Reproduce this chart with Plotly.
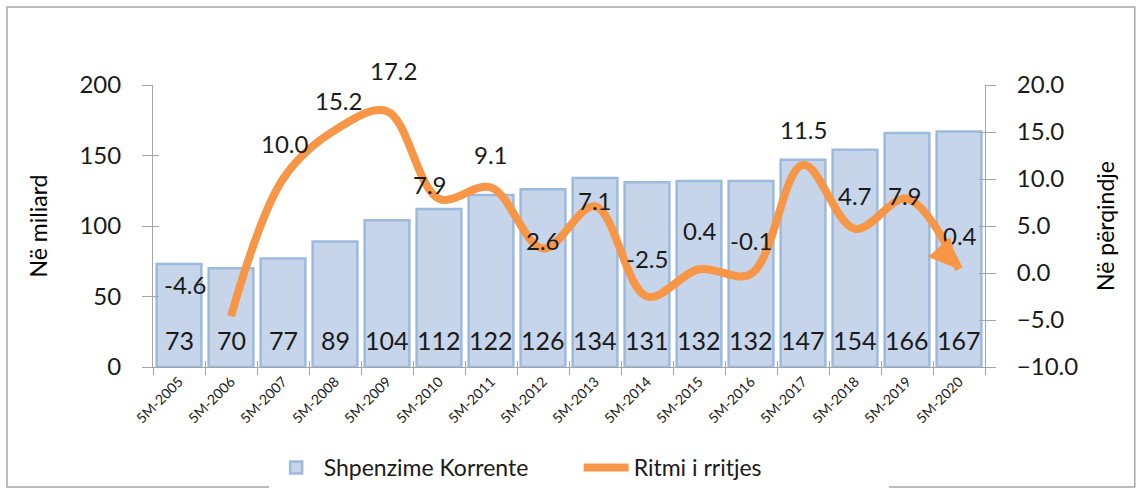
import plotly.graph_objects as go

categories = ["5M-2005", "5M-2006", "5M-2007", "5M-2008", "5M-2009", "5M-2010",
              "5M-2011", "5M-2012", "5M-2013", "5M-2014", "5M-2015", "5M-2016",
              "5M-2017", "5M-2018", "5M-2019", "5M-2020"]
spending = [73, 70, 77, 89, 104, 112, 122, 126, 134, 131, 132, 132, 147, 154, 166, 167]
growth = [None, -4.6, 10.0, 15.2, 17.2, 7.9, 9.1, 2.6, 7.1, -2.5, 0.4, -0.1, 11.5, 4.7, 7.9, 0.4]

# label offsets (pixels) for growth labels: (dx, dy)
label_dx = [0, -46, 2, 3, 6, -9, 0, 0, 0, 0, 1, 0, 0, 0, -2, 1]
label_dy = [0, 32, 36, 30, 41, 14, 33, 8, 6, 38, 39, 33, 35, 33, 3, 34]

FONT = "Lato"
TXT = "#1a1a1a"
AX = "#a6a6a6"
ORANGE = "#f79646"

fig = go.Figure()

fig.add_trace(go.Bar(
    x=categories, y=spending, name="Shpenzime Korrente",
    marker=dict(color="#c6d5ea", line=dict(color="#9cb9de", width=2.5)),
    width=0.86,
))

fig.add_trace(go.Scatter(
    x=categories, y=growth, name="Ritmi i rritjes", yaxis="y2",
    mode="lines",
    line=dict(color=ORANGE, width=8, shape="spline", smoothing=1.0),
    connectgaps=False,
))

# helper (empty) traces so the overlay axes that draw the inner half of the ticks exist
fig.add_trace(go.Scatter(x=[None], y=[None], xaxis="x2", yaxis="y3",
                         showlegend=False, hoverinfo="skip"))
fig.add_trace(go.Scatter(x=[None], y=[None], xaxis="x2", yaxis="y4",
                         showlegend=False, hoverinfo="skip"))

annotations = []
for i, (c, v) in enumerate(zip(categories, spending)):
    annotations.append(dict(x=c, y=0, xref="x", yref="y", text=str(v),
                            showarrow=False, yshift=27,
                            font=dict(family=FONT, size=25, color=TXT)))
for i, (c, g) in enumerate(zip(categories, growth)):
    if g is None:
        continue
    annotations.append(dict(x=c, y=g, xref="x", yref="y2", text=f"{g:.1f}",
                            showarrow=False, yshift=label_dy[i], xshift=label_dx[i],
                            font=dict(family=FONT, size=24, color=TXT)))
# arrow head at the end of the growth line
annotations.append(dict(x=categories[-1], y=growth[-1], xref="x", yref="y2", text="",
                        showarrow=True, arrowhead=2, arrowsize=0.85, arrowwidth=7,
                        arrowcolor=ORANGE, ax=-18, ay=-20, standoff=0))

inner = dict(showgrid=False, zeroline=False, showline=False, ticks="inside",
             ticklen=6, tickcolor=AX, showticklabels=False)

fig.update_layout(
    width=1142, height=492,
    margin=dict(l=153, r=157, t=85, b=125, autoexpand=False),
    paper_bgcolor="white", plot_bgcolor="rgba(0,0,0,0)",
    font=dict(family=FONT, color=TXT),
    bargap=0.1,
    showlegend=True,
    legend=dict(orientation="h", x=0.139, xanchor="left", y=-0.28, yanchor="top",
                font=dict(family=FONT, size=23, color=TXT), entrywidth=250,
                entrywidthmode="pixels", itemwidth=45, tracegroupgap=0),
    xaxis=dict(type="category", showgrid=False, showline=True, linecolor=AX, linewidth=1,
               ticks="outside", ticklen=7, tickcolor=AX, tickson="boundaries",
               tickangle=-45, tickfont=dict(family=FONT, size=14, color=TXT),
               range=[-0.5, 15.5]),
    xaxis2=dict(type="category", overlaying="x", side="bottom", categoryarray=categories,
                categoryorder="array", range=[-0.5, 15.5], tickson="boundaries",
                tickvals=categories, **inner),
    yaxis=dict(range=[0, 200], dtick=50, showgrid=False, zeroline=False,
               showline=True, linecolor=AX, linewidth=1, ticks="outside", ticklen=10,
               tickcolor=AX, ticklabelstandoff=16,
               tickfont=dict(family=FONT, size=24, color=TXT),
               title=dict(text="Në miliard", font=dict(family=FONT, size=23, color="#000"),
                          standoff=25)),
    yaxis2=dict(range=[-10, 20], dtick=5, tickformat=".1f", overlaying="y", side="right",
                showgrid=False, zeroline=False, showline=True, linecolor=AX, linewidth=1,
                ticks="outside", ticklen=10, tickcolor=AX, ticklabelstandoff=16,
                tickfont=dict(family=FONT, size=24, color=TXT),
                title=dict(text="Në përqindje", font=dict(family=FONT, size=23, color="#000"),
                           standoff=20)),
    yaxis3=dict(range=[0, 200], dtick=50, overlaying="y", side="left", **inner),
    yaxis4=dict(range=[-10, 20], dtick=5, overlaying="y", side="right", **inner),
    annotations=annotations,
    shapes=[dict(type="rect", xref="paper", yref="paper",
                 x0=-0.1755, x1=1.180, y0=-0.4255, y1=1.2766,
                 line=dict(color="#a6a6a6", width=1.5), fillcolor="rgba(0,0,0,0)",
                 layer="below")],
)

fig.write_html("out.html", config={"displayModeBar": False},
               post_script="document.body.style.margin='0';")
